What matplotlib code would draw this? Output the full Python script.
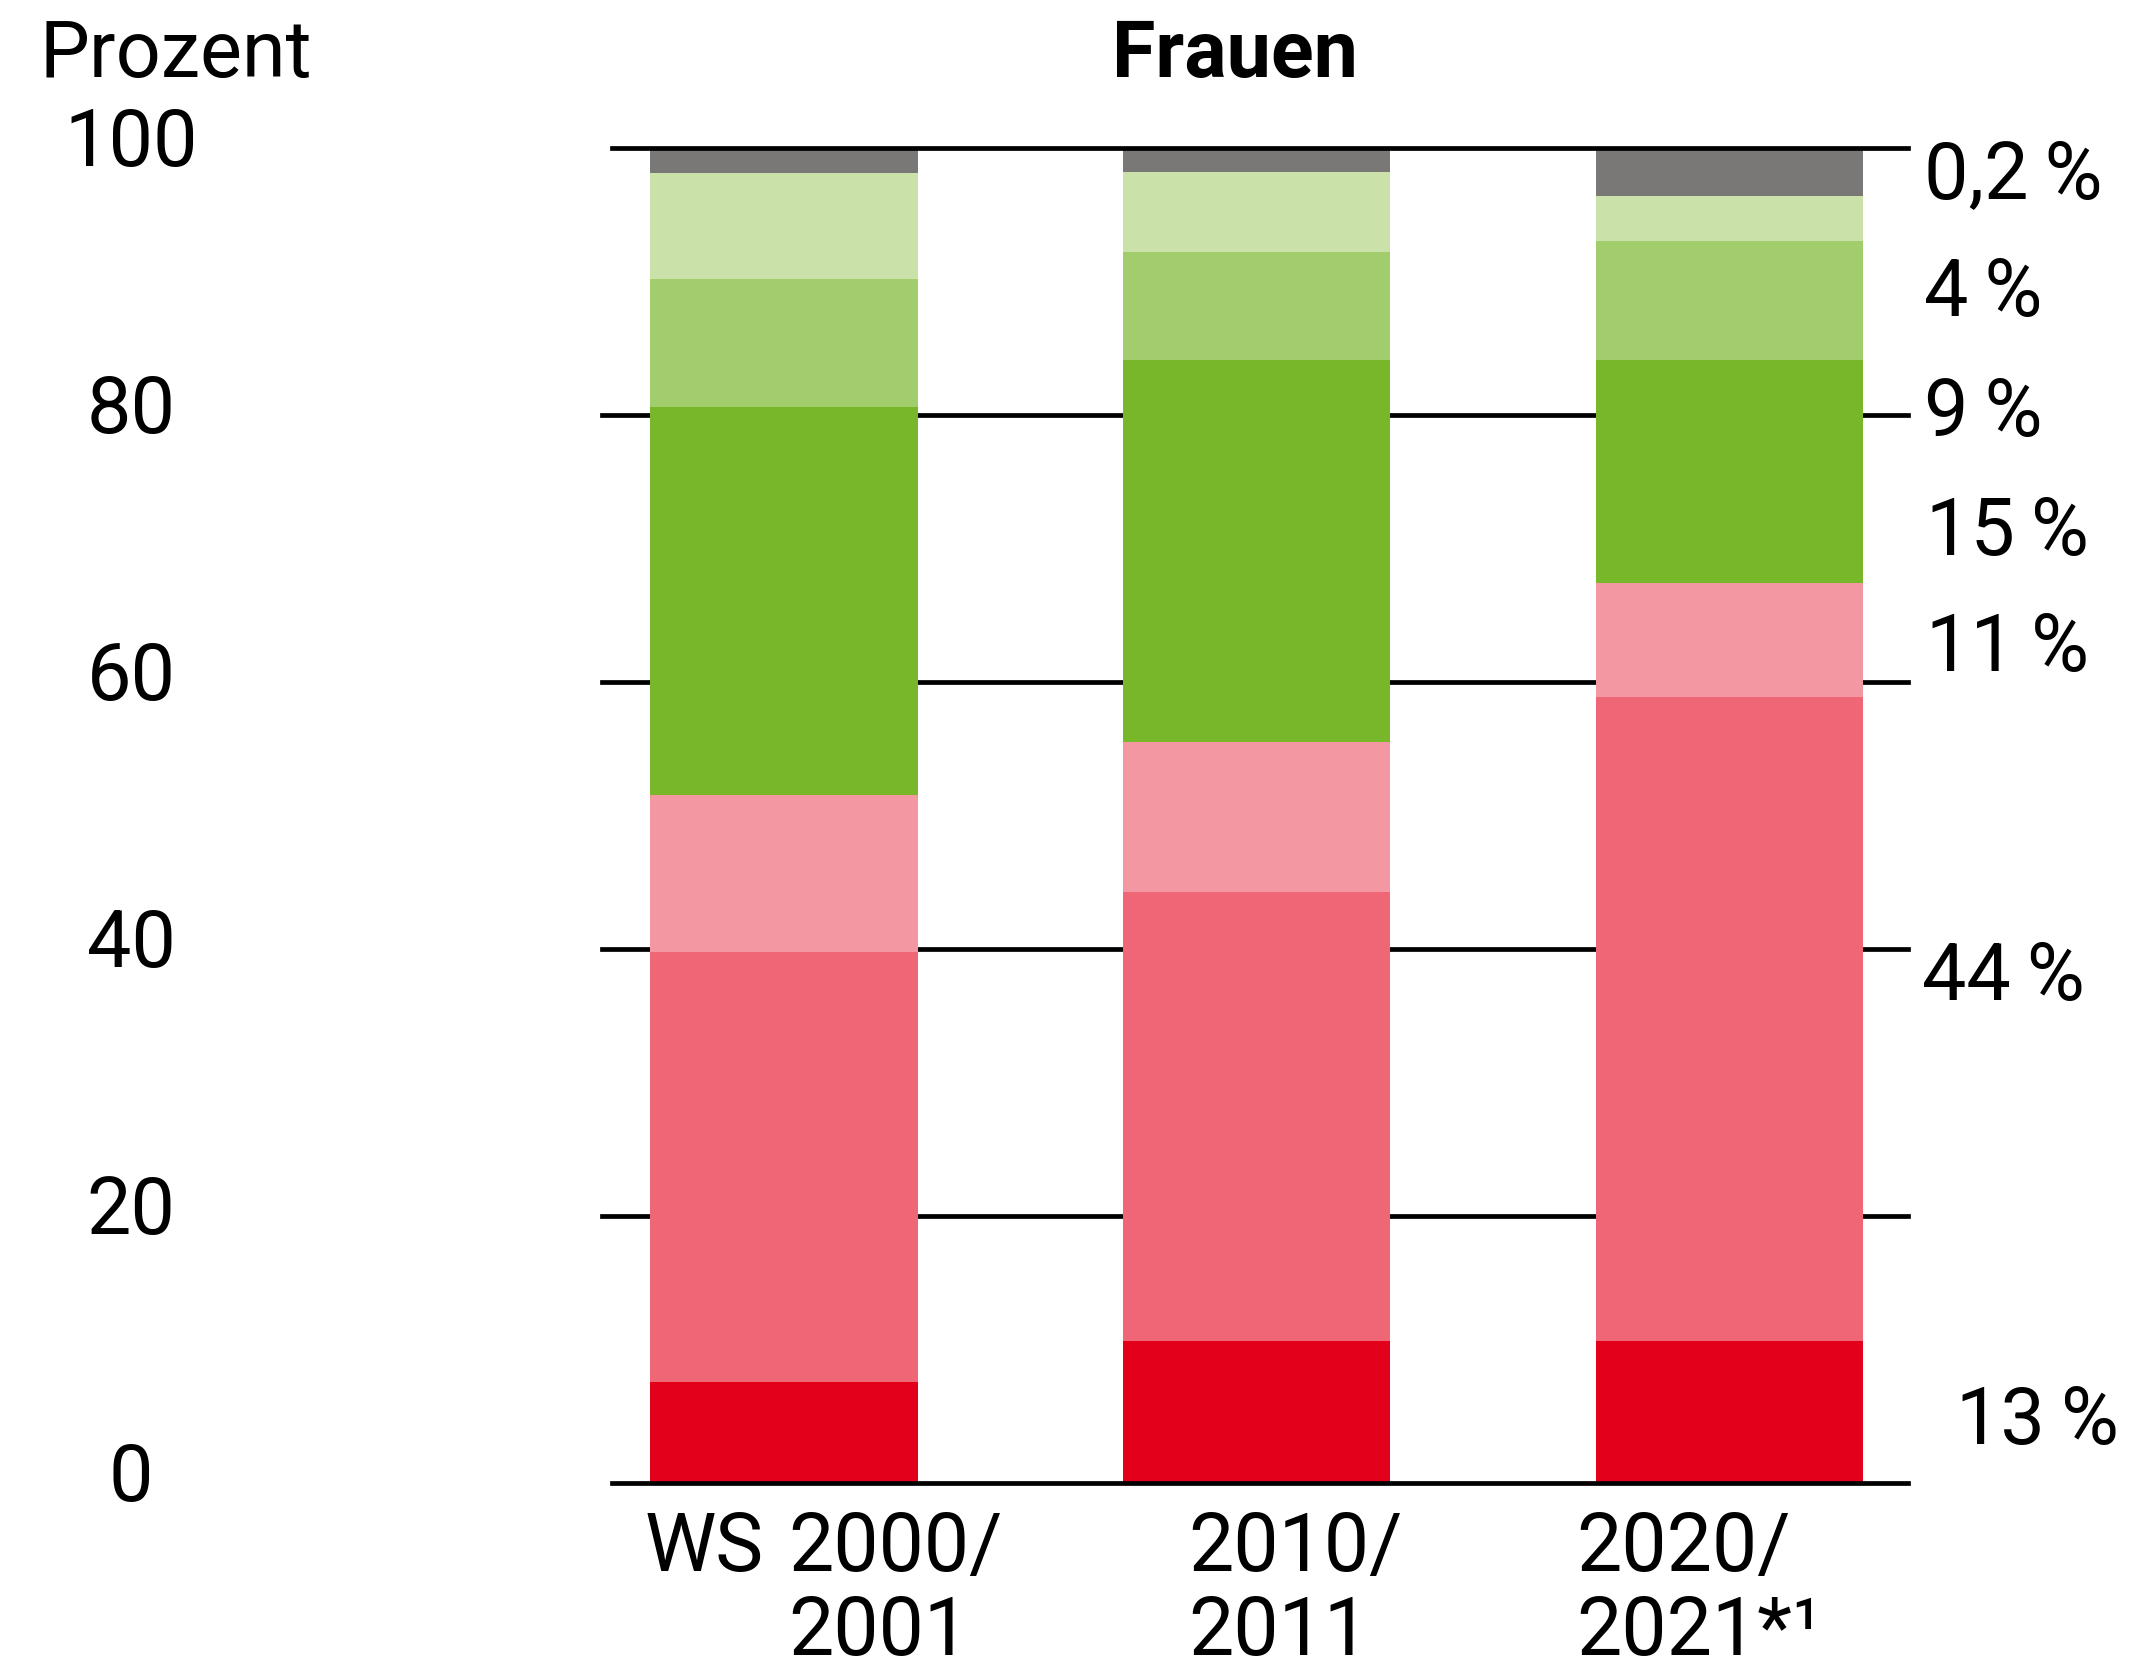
import matplotlib
matplotlib.use("Agg")
import matplotlib.pyplot as plt
import matplotlib.transforms as mtransforms
import numpy as np

plt.rcParams['font.family'] = ['Roboto', 'DejaVu Sans']

# ---------------- data ----------------
categories = ["2000/\n2001", "2010/\n2011", "2020/\n2021*\u00b9"]
cat_prefix = ["WS", "", ""]
# stacked segments (bottom -> top), percent
seg_darkred   = [7.6, 10.6, 10.6]
seg_midred    = [32.2, 33.7, 48.3]
seg_pink      = [11.7, 11.2, 8.5]
seg_green     = [29.1, 28.6, 16.7]
seg_midgreen  = [9.6, 8.1, 8.9]
seg_lightgrn  = [7.9, 6.0, 3.4]
seg_grey      = [1.9, 1.8, 3.6]
right_labels = ["0,2\u2009%", "4\u2009%", "9\u2009%", "15\u2009%", "11\u2009%", "44\u2009%", "13\u2009%"]
yticks = [0, 20, 40, 60, 80, 100]
title = "Frauen"
ylabel = "Prozent"

series = [seg_darkred, seg_midred, seg_pink, seg_green, seg_midgreen, seg_lightgrn, seg_grey]
colors = ["#E2001A", "#EF6676", "#F397A2", "#78B72A", "#A1CD6C", "#CAE2AA", "#7A7876"]

# ---------------- figure ----------------
W, H = 2152, 1668
fig = plt.figure(figsize=(W / 100, H / 100), dpi=100)
ax = fig.add_axes([602 / W, 1 - 1483 / H, (1908 - 602) / W, (1483 - 148) / H])

x = np.arange(len(categories))
bottom = np.zeros(len(categories))
for vals, col in zip(series, colors):
    ax.bar(x, vals, bottom=bottom, width=0.565, color=col, zorder=2, linewidth=0)
    bottom += np.array(vals)

ax.set_xlim(-0.385, 2.377)
ax.set_ylim(0, 100)
ax.axis('off')

lw = 3.4
for v in yticks:
    if v in (0, 100):
        ax.axhline(v, xmin=0.0077, xmax=1.0, color='black', lw=lw, zorder=3, clip_on=False)
    else:
        ax.axhline(v, xmin=0.0, xmax=1.0, color='black', lw=lw, zorder=1, clip_on=False)

fs = 57
# y tick labels
tr_tick = mtransforms.blended_transform_factory(fig.transFigure, ax.transData) + \
    mtransforms.ScaledTranslation(0, -18 / 100, fig.dpi_scale_trans)
for v in yticks:
    fig.text(131 / W, v, str(v), transform=tr_tick, ha='center', va='baseline', fontsize=fs)

# right-hand labels
label_pos = [96.25, 87.4, 78.4, 69.5, 60.8, 36.2, 2.9]
label_x = [1924, 1924, 1924, 1926, 1926, 1922, 1956]
tr_r = mtransforms.blended_transform_factory(fig.transFigure, ax.transData)
for lab, yp, xp in zip(right_labels, label_pos, label_x):
    fig.text(xp / W, yp, lab, transform=tr_r, ha='left', va='baseline', fontsize=fs)

# category labels
cat_x = [0.008, 0.855, 1.675]
tr_c = mtransforms.blended_transform_factory(ax.transData, fig.transFigure)
base1 = 1 - 1571 / H
base2 = 1 - 1655 / H
cfs = 58
for cx, lab, pre in zip(cat_x, categories, cat_prefix):
    l1, l2 = lab.split("\n")
    fig.text(cx, base1, l1, transform=tr_c, ha='left', va='baseline', fontsize=cfs)
    fig.text(cx, base2, l2, transform=tr_c, ha='left', va='baseline', fontsize=cfs)
    if pre:
        fig.text(cx - 0.05, base1, pre, transform=tr_c, ha='right', va='baseline', fontsize=cfs)

fig.text(40 / W, 1 - 77 / H, ylabel, ha='left', va='baseline', fontsize=fs)
fig.text(1235 / W, 1 - 77 / H, title, ha='center', va='baseline', fontsize=fs, fontweight='bold')

fig.savefig("out.png", dpi=100, facecolor='white')
